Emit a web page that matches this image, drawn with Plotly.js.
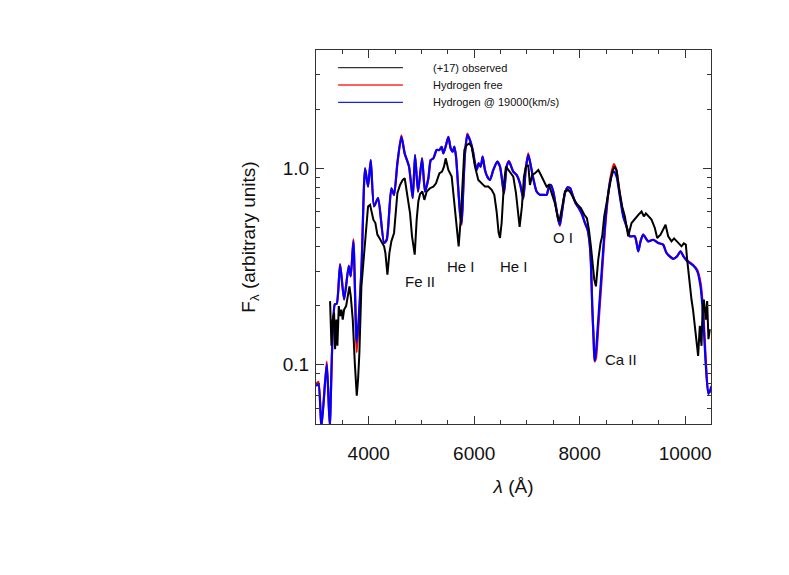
<!DOCTYPE html>
<html>
<head>
<meta charset="utf-8">
<script src="https://cdn.plot.ly/plotly-3.0.1.min.js"></script>
<style>
  html, body { margin: 0; padding: 0; background: #fff; }
  #chart { width: 789px; height: 575px; }
</style>
</head>
<body>
<div id="chart"></div>
<script>
// observed spectrum (+17 days)
const lamObs = [3267, 3293, 3318, 3343, 3362, 3387, 3406, 3432, 3457, 3482, 3507, 3533, 3571, 3596, 3634, 3659, 3697, 3735, 3773, 3798,
  3823, 3861, 3899, 3943, 3987, 4025, 4051, 4088, 4126, 4164, 4202, 4253, 4291, 4316, 4354, 4392, 4429, 4480, 4543, 4594,
  4644, 4682, 4733, 4783, 4821, 4872, 4909, 4941, 4973, 5017, 5055, 5099, 5162, 5225, 5276, 5339, 5390, 5427, 5459, 5510,
  5573, 5617, 5667, 5705, 5743, 5781, 5813, 5857, 5907, 5952, 6015, 6078, 6141, 6204, 6267, 6331, 6381, 6425, 6463, 6489,
  6520, 6564, 6602, 6646, 6691, 6741, 6792, 6836, 6861, 6905, 6943, 6981, 7025, 7057, 7101, 7152, 7215, 7265, 7329, 7373,
  7417, 7467, 7530, 7581, 7613, 7670, 7720, 7783, 7834, 7897, 7960, 8023, 8087, 8137, 8175, 8213, 8245, 8276, 8308, 8352,
  8396, 8427, 8465, 8522, 8573, 8617, 8661, 8699, 8750, 8806, 8857, 8920, 8983, 9078, 9128, 9173, 9217, 9255, 9299, 9362,
  9425, 9470, 9533, 9583, 9628, 9678, 9741, 9790, 9836, 9885, 9931, 9975, 10013, 10038, 10076, 10120, 10150, 10171, 10195, 10215,
  10246, 10278, 10310, 10330, 10354, 10392, 10417, 10442, 10467];
const fluxObs = [0.211, 0.125, 0.170, 0.184, 0.120, 0.170, 0.125, 0.199, 0.177, 0.191, 0.170, 0.191, 0.199, 0.215, 0.251, 0.224, 0.170, 0.103, 0.0697, 0.0846,
  0.1155, 0.251, 0.330, 0.487, 0.640, 0.652, 0.615, 0.548, 0.527, 0.460, 0.442, 0.417, 0.401, 0.371, 0.288, 0.371, 0.425, 0.469, 0.747, 0.823,
  0.873, 0.890, 0.719, 0.592, 0.451, 0.364, 0.548, 0.680, 0.740, 0.762, 0.691, 0.762, 0.792, 0.807, 0.839, 0.943, 0.962, 1.02, 1.124, 0.981,
  0.907, 0.691, 0.506, 0.401, 0.548, 0.907, 1.239, 1.313, 1.339, 1.288, 1.02, 0.873, 0.839, 0.807, 0.807, 0.777, 0.733, 0.603, 0.469, 0.442,
  0.527, 0.839, 1.02, 0.981, 0.943, 0.907, 0.747, 0.548, 0.503, 0.640, 0.907, 1.02, 1.04, 0.823, 0.925, 0.943, 0.981, 0.925, 0.856, 0.807,
  0.823, 0.747, 0.665, 0.569, 0.537, 0.640, 0.762, 0.777, 0.747, 0.691, 0.652, 0.627, 0.580, 0.558, 0.487, 0.401, 0.330, 0.272, 0.251, 0.343,
  0.417, 0.451, 0.569, 0.691, 0.839, 0.962, 1.02, 0.981, 0.777, 0.640, 0.569, 0.451, 0.527, 0.569, 0.586, 0.603, 0.569, 0.590, 0.569, 0.548,
  0.497, 0.442, 0.460, 0.487, 0.516, 0.451, 0.425, 0.440, 0.425, 0.410, 0.401, 0.415, 0.409, 0.343, 0.272, 0.215, 0.190, 0.170, 0.150, 0.135,
  0.111, 0.158, 0.125, 0.190, 0.215, 0.170, 0.211, 0.135, 0.152];

// model wavelengths shared by both synthetic spectra
const lamModel = [3000, 3046, 3103, 3204, 3261, 3356, 3394, 3457, 3533, 3621, 3659, 3709, 3773, 3861, 3931, 3987, 4038, 4101, 4177, 4291,
  4341, 4429, 4480, 4543, 4619, 4682, 4764, 4834, 4878, 4935, 5011, 5067, 5131, 5175, 5225, 5288, 5339, 5383, 5415, 5466,
  5510, 5554, 5592, 5623, 5655, 5699, 5731, 5762, 5794, 5825, 5870, 5920, 5971, 6015, 6046, 6084, 6122, 6160, 6204, 6248,
  6299, 6362, 6438, 6489, 6520, 6564, 6615, 6659, 6741, 6804, 6867, 6931, 6975, 7025, 7076, 7126, 7183, 7246, 7310, 7373,
  7417, 7455, 7499, 7544, 7594, 7625, 7670, 7720, 7771, 7821, 7865, 7922, 7985, 8048, 8099, 8150, 8188, 8213, 8238, 8264,
  8283, 8308, 8352, 8415, 8478, 8541, 8592, 8649, 8699, 8762, 8825, 8889, 8952, 9046, 9110, 9154, 9204, 9299, 9394, 9489,
  9583, 9646, 9773, 9849, 9912, 9975, 10038, 10152, 10228, 10291, 10341, 10392, 10442, 10499];
const fluxHfree = [0.080, 0.082, 0.048, 0.104, 0.049, 0.203, 0.205, 0.326, 0.215, 0.320, 0.282, 0.435, 0.116, 0.300, 1.00, 0.807, 1.10, 0.640, 0.705, 0.417,
  0.433, 0.792, 0.733, 1.06, 1.47, 1.19, 1.02, 0.705, 1.168, 0.762, 1.124, 0.762, 0.890, 1.10, 1.124, 1.239, 1.239, 1.288, 1.19, 1.313,
  1.447, 1.263, 1.215, 1.288, 1.146, 0.777, 0.592, 0.515, 0.807, 1.19, 1.50, 1.392, 1.239, 1.06, 0.981, 1.06, 1.02, 1.146, 0.981, 0.907,
  0.873, 0.981, 1.081, 1.02, 0.907, 0.740, 1.02, 1.09, 0.962, 0.925, 0.839, 0.700, 0.981, 1.19, 1.02, 0.873, 0.762, 0.733, 0.733, 0.733,
  0.807, 0.823, 0.762, 0.652, 0.548, 0.510, 0.615, 0.747, 0.801, 0.792, 0.733, 0.665, 0.627, 0.580, 0.527, 0.487, 0.417, 0.330, 0.199, 0.135,
  0.104, 0.108, 0.155, 0.270, 0.480, 0.740, 0.920, 1.05, 0.970, 0.740, 0.580, 0.506, 0.451, 0.451, 0.378, 0.425, 0.460, 0.425, 0.433, 0.417,
  0.409, 0.371, 0.346, 0.357, 0.378, 0.354, 0.340, 0.322, 0.305, 0.262, 0.190, 0.105, 0.072, 0.074];
const fluxH19000 = [0.078, 0.080, 0.048, 0.101, 0.049, 0.203, 0.205, 0.324, 0.215, 0.318, 0.282, 0.425, 0.130, 0.305, 1.00, 0.807, 1.10, 0.640, 0.705, 0.417,
  0.433, 0.792, 0.733, 1.06, 1.447, 1.19, 1.02, 0.705, 1.168, 0.762, 1.124, 0.762, 0.890, 1.10, 1.124, 1.239, 1.239, 1.288, 1.19, 1.313,
  1.447, 1.263, 1.215, 1.288, 1.146, 0.777, 0.592, 0.527, 0.807, 1.19, 1.475, 1.392, 1.239, 1.06, 0.981, 1.06, 1.02, 1.146, 0.981, 0.907,
  0.873, 0.981, 1.081, 1.02, 0.907, 0.747, 1.02, 1.081, 0.962, 0.925, 0.839, 0.705, 0.981, 1.168, 1.02, 0.873, 0.762, 0.733, 0.733, 0.733,
  0.807, 0.823, 0.762, 0.652, 0.548, 0.516, 0.615, 0.747, 0.801, 0.792, 0.733, 0.665, 0.627, 0.580, 0.527, 0.487, 0.417, 0.330, 0.199, 0.135,
  0.105, 0.1155, 0.170, 0.294, 0.506, 0.747, 0.890, 0.962, 0.907, 0.719, 0.569, 0.506, 0.451, 0.451, 0.378, 0.425, 0.460, 0.425, 0.433, 0.417,
  0.409, 0.371, 0.346, 0.357, 0.378, 0.354, 0.337, 0.320, 0.300, 0.251, 0.177, 0.099, 0.071, 0.078];

// line identifications
const lineNames = ['Fe II', 'He I', 'He I', 'O I', 'Ca II'];
const lineLam = [4973, 5756, 6754, 7682, 8781];
const lineFlux = [0.267, 0.318, 0.318, 0.447, 0.107];

// axis ticks
const xMajor = [4000, 6000, 8000, 10000];
const xMinor = [3500, 4500, 5000, 5500, 6500, 7000, 7500, 8500, 9000, 9500];
const yMajor = [0.1, 1];
const yMajorText = ['0.1', '1.0'];
const yMinor = [0.06, 0.07, 0.08, 0.09, 0.2, 0.3, 0.4, 0.5, 0.6, 0.7, 0.8, 0.9, 2, 3];

const legendNames = ['(+17) observed', 'Hydrogen free', 'Hydrogen @ 19000(km/s)'];
const legendColors = ['#333', '#ff2a2a', '#1a1aff'];

const font = 'Liberation Sans, Arial, Helvetica, sans-serif';
const axisColor = '#333';

const traces = [
  { x: lamModel, y: fluxHfree, type: 'scatter', mode: 'lines', name: legendNames[1],
    line: { color: 'red', width: 2.2, shape: 'spline', smoothing: 0.6 } },
  { x: lamModel, y: fluxH19000, type: 'scatter', mode: 'lines', name: legendNames[2],
    line: { color: 'blue', width: 2.2, shape: 'spline', smoothing: 0.6 } },
  { x: lamObs, y: fluxObs, type: 'scatter', mode: 'lines', name: legendNames[0],
    line: { color: 'black', width: 2 } }
];

const annotations = lineNames.map((t, i) => ({
  x: lineLam[i], y: Math.log10(lineFlux[i]), xref: 'x', yref: 'y',
  text: t, showarrow: false, font: { family: font, size: 15, color: '#111' }
}));

// hand drawn legend, top left inside the frame
const legRows = [0.953, 0.9065, 0.860];
const shapes = legRows.map((yy, i) => ({
  type: 'line', xref: 'paper', yref: 'paper', x0: 0.056, x1: 0.22, y0: yy, y1: yy,
  line: { color: legendColors[i], width: 1.4 }
}));
legRows.forEach((yy, i) => {
  annotations.push({
    x: 0.291, y: yy, xref: 'paper', yref: 'paper', xanchor: 'left', yanchor: 'middle',
    text: legendNames[i], showarrow: false, font: { family: font, size: 11, color: '#111' }
  });
});

const layout = {
  width: 789, height: 575,
  margin: { l: 316, r: 78, t: 50, b: 151, pad: 0 },
  paper_bgcolor: 'white', plot_bgcolor: 'white',
  showlegend: false,
  font: { family: font, size: 19, color: '#111' },
  xaxis: {
    range: [3000, 10490], showgrid: false, zeroline: false,
    showline: true, linecolor: axisColor, linewidth: 1, mirror: 'ticks',
    ticks: 'inside', ticklen: 8, tickwidth: 1, tickcolor: axisColor,
    tickmode: 'array', tickvals: xMajor, ticktext: xMajor.map(String),
    ticklabelstandoff: 12,
    minor: { tickmode: 'array', tickvals: xMinor, ticks: 'inside', ticklen: 4, tickcolor: axisColor },
    title: { text: '<i>λ</i> (Å)', font: { size: 19 }, standoff: 16 }
  },
  yaxis: {
    type: 'log', range: [Math.log10(0.05), Math.log10(4)], showgrid: false, zeroline: false,
    showline: true, linecolor: axisColor, linewidth: 1, mirror: 'ticks',
    ticks: 'inside', ticklen: 8, tickwidth: 1, tickcolor: axisColor,
    tickmode: 'array', tickvals: yMajor, ticktext: yMajorText,
    ticklabelstandoff: 2,
    minor: { tickmode: 'array', tickvals: yMinor, ticks: 'inside', ticklen: 4, tickcolor: axisColor },
    title: { text: 'F<sub>λ</sub> (arbitrary units)', font: { size: 19 }, standoff: 22 }
  },
  annotations: annotations,
  shapes: shapes
};

Plotly.newPlot('chart', traces, layout, { staticPlot: true, displayModeBar: false });
</script>
</body>
</html>
